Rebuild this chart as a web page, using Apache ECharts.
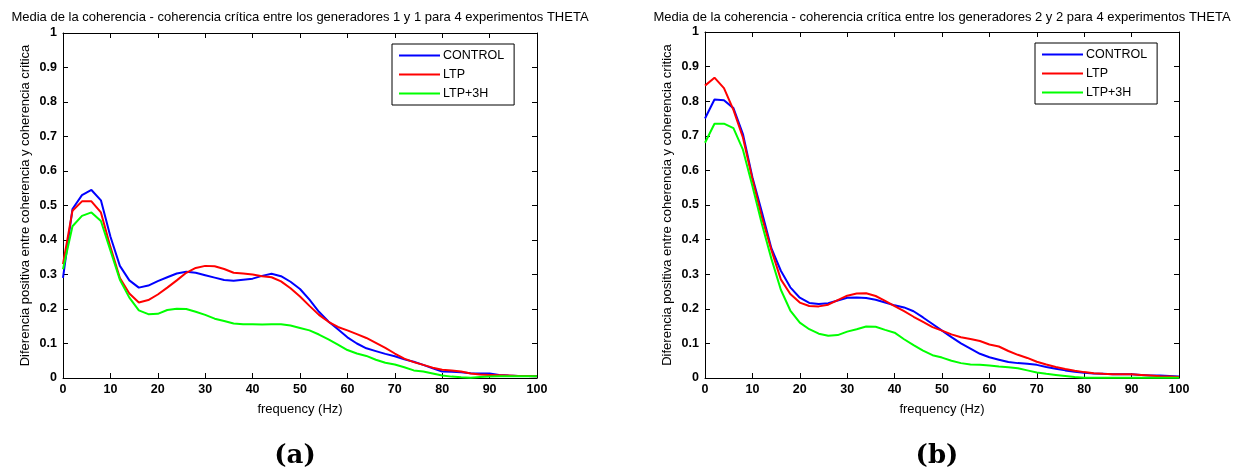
<!DOCTYPE html>
<html>
<head>
<meta charset="utf-8">
<title>Media de la coherencia - THETA</title>
<script src="https://cdn.jsdelivr.net/npm/echarts@6/dist/echarts.min.js"></script>
<style>
  html, body { margin: 0; padding: 0; background: #fff; }
  #chart { width: 1244px; height: 476px; }
</style>
</head>
<body>
<div id="chart"></div>
<script>
// Frequency axis (Hz), shared by both panels
const freq = [0, 2, 4, 6, 8, 10, 12, 14, 16, 18, 20, 22, 24, 26, 28, 30, 32, 34, 36, 38, 40,
  42, 44, 46, 48, 50, 52, 54, 56, 58, 60, 62, 64, 66, 68, 70, 72, 74, 76, 78, 80,
  82, 84, 86, 88, 90, 92, 94, 96, 98, 100];

const seriesNames = ['CONTROL', 'LTP', 'LTP+3H'];

// Panel (a): generators 1 and 1
const control1 = [0.290, 0.490, 0.530, 0.545, 0.515, 0.410, 0.325, 0.283, 0.262, 0.268, 0.281,
  0.292, 0.303, 0.308, 0.305, 0.298, 0.291, 0.284, 0.282, 0.285, 0.288,
  0.296, 0.302, 0.295, 0.279, 0.258, 0.227, 0.192, 0.164, 0.141, 0.118,
  0.100, 0.086, 0.078, 0.070, 0.063, 0.054, 0.047, 0.038, 0.028, 0.019,
  0.018, 0.017, 0.014, 0.013, 0.013, 0.009, 0.007, 0.006, 0.006, 0.005];
const ltp1 = [0.330, 0.485, 0.512, 0.512, 0.480, 0.380, 0.290, 0.245, 0.219, 0.226, 0.242,
  0.262, 0.283, 0.305, 0.319, 0.325, 0.324, 0.316, 0.305, 0.303, 0.300,
  0.295, 0.292, 0.280, 0.260, 0.236, 0.209, 0.183, 0.163, 0.148, 0.138,
  0.127, 0.116, 0.102, 0.087, 0.071, 0.056, 0.046, 0.038, 0.030, 0.024,
  0.022, 0.019, 0.013, 0.010, 0.009, 0.008, 0.007, 0.006, 0.006, 0.005];
const ltp3h1 = [0.315, 0.440, 0.470, 0.480, 0.455, 0.370, 0.285, 0.233, 0.196, 0.185, 0.186,
  0.197, 0.201, 0.200, 0.192, 0.183, 0.172, 0.165, 0.158, 0.156, 0.156,
  0.155, 0.156, 0.156, 0.152, 0.145, 0.138, 0.126, 0.112, 0.097, 0.081,
  0.071, 0.064, 0.053, 0.044, 0.039, 0.031, 0.022, 0.019, 0.013, 0.007,
  0.004, 0.002, 0.001, 0.003, 0.004, 0.005, 0.005, 0.005, 0.005, 0.005];

// Panel (b): generators 2 and 2
const control2 = [0.750, 0.805, 0.803, 0.780, 0.705, 0.580, 0.480, 0.375, 0.310, 0.262, 0.232,
  0.217, 0.214, 0.216, 0.224, 0.232, 0.233, 0.231, 0.226, 0.218, 0.210,
  0.204, 0.193, 0.175, 0.156, 0.137, 0.118, 0.100, 0.085, 0.070, 0.060,
  0.053, 0.046, 0.043, 0.041, 0.038, 0.032, 0.027, 0.022, 0.018, 0.015,
  0.013, 0.012, 0.011, 0.011, 0.011, 0.009, 0.007, 0.007, 0.006, 0.004];
const ltp2 = [0.845, 0.868, 0.838, 0.775, 0.695, 0.575, 0.465, 0.370, 0.285, 0.243, 0.218,
  0.208, 0.207, 0.212, 0.225, 0.238, 0.244, 0.245, 0.237, 0.223, 0.208,
  0.193, 0.177, 0.162, 0.147, 0.137, 0.126, 0.118, 0.113, 0.107, 0.097,
  0.091, 0.078, 0.067, 0.058, 0.047, 0.039, 0.032, 0.026, 0.021, 0.017,
  0.014, 0.012, 0.011, 0.011, 0.011, 0.009, 0.007, 0.005, 0.004, 0.003];
const ltp3h2 = [0.680, 0.735, 0.735, 0.722, 0.660, 0.555, 0.445, 0.345, 0.255, 0.195, 0.160,
  0.141, 0.128, 0.122, 0.124, 0.134, 0.141, 0.149, 0.148, 0.139, 0.131,
  0.112, 0.095, 0.079, 0.066, 0.059, 0.050, 0.043, 0.039, 0.038, 0.036,
  0.033, 0.031, 0.028, 0.022, 0.016, 0.012, 0.009, 0.006, 0.003, 0.001,
  0.001, 0.001, 0.001, 0.001, 0.001, 0.001, 0.001, 0.001, 0.001, 0.001];

const titles = [
  'Media de la coherencia - coherencia crítica entre los generadores 1 y 1 para 4 experimentos THETA',
  'Media de la coherencia - coherencia crítica entre los generadores 2 y 2 para 4 experimentos THETA'
];
const panelLabels = ['(a)', '(b)'];
const xName = 'frequency (Hz)';
const yName = 'Diferencia positiva entre coherencia y coherencia critica';

const colors = ['#0000ff', '#ff0000', '#00ff00'];
const FONT = '"Liberation Sans", Arial, Helvetica, sans-serif';

// Panel geometry in pixels
const panels = [
  { left: 63, right: 537, top: 33, bottom: 378 },
  { left: 705, right: 1179, top: 32, bottom: 378 }
];

const chart = echarts.init(document.getElementById('chart'), null, { renderer: 'canvas' });

const grids = panels.map(p => ({
  left: p.left, top: p.top,
  width: p.right - p.left, height: p.bottom - p.top,
  containLabel: false
}));

function xAx(gi, pos, labels) {
  return {
    gridIndex: gi, type: 'value', min: 0, max: 100, interval: 10, position: pos,
    axisLine: { show: true, onZero: false, lineStyle: { color: '#000', width: 1 } },
    axisTick: { show: true, inside: true, length: 5, lineStyle: { color: '#000' } },
    axisLabel: { show: labels, color: '#000', fontSize: 12.5, fontWeight: 'bold', fontFamily: FONT, margin: 5 },
    splitLine: { show: false }
  };
}
function yAx(gi, pos, labels) {
  return {
    gridIndex: gi, type: 'value', min: 0, max: 1, interval: 0.1, position: pos,
    axisLine: { show: true, onZero: false, lineStyle: { color: '#000', width: 1 } },
    axisTick: { show: true, inside: true, length: 5, lineStyle: { color: '#000' } },
    axisLabel: { show: labels, color: '#000', fontSize: 12.5, fontWeight: 'bold', fontFamily: FONT, margin: 6 },
    splitLine: { show: false }
  };
}

const xAxes = [xAx(0, 'bottom', true), xAx(0, 'top', false), xAx(1, 'bottom', true), xAx(1, 'top', false)];
const yAxes = [yAx(0, 'left', true), yAx(0, 'right', false), yAx(1, 'left', true), yAx(1, 'right', false)];

const panelData = [[control1, ltp1, ltp3h1], [control2, ltp2, ltp3h2]];
const series = [];
panelData.forEach((set, gi) => {
  set.forEach((vals, k) => {
    series.push({
      name: seriesNames[k], type: 'line',
      xAxisIndex: gi * 2, yAxisIndex: gi * 2,
      data: freq.map((f, i) => [f, vals[i]]),
      symbol: 'none', smooth: false, clip: true,
      lineStyle: { color: colors[k], width: 2 },
      itemStyle: { color: colors[k] },
      emphasis: { disabled: true }
    });
  });
});

const legendBoxes = [{ left: 392, top: 44 }, { left: 1035, top: 43 }];
const legends = legendBoxes.map(b => ({
  left: b.left, top: b.top, orient: 'vertical',
  data: seriesNames.map(n => ({ name: n, icon: 'rect' })),
  itemWidth: 41, itemHeight: 2, itemGap: 6,
  backgroundColor: '#fff', borderColor: '#000', borderWidth: 1,
  padding: [5, 10, 5, 7],
  selectedMode: false,
  textStyle: { color: '#000', fontSize: 12.5, fontFamily: FONT, padding: [0, 0, 0, -2], lineHeight: 13 }
}));

const graphics = [];
panels.forEach((p, i) => {
  const cx = (p.left + p.right) / 2;
  const cy = (p.top + p.bottom) / 2;
  graphics.push({
    type: 'text', x: cx, y: 17,
    style: { text: titles[i], fill: '#000', font: '13px ' + FONT, textAlign: 'center', textVerticalAlign: 'middle' }
  });
  graphics.push({
    type: 'text', x: cx, y: 409,
    style: { text: xName, fill: '#000', font: '13px ' + FONT, textAlign: 'center', textVerticalAlign: 'middle' }
  });
  graphics.push({
    type: 'text', x: p.left - 38, y: cy, rotation: Math.PI / 2,
    style: { text: yName, fill: '#000', font: '13px ' + FONT, textAlign: 'center', textVerticalAlign: 'middle' }
  });
  graphics.push({
    type: 'text', x: cx - 5, y: 456,
    style: { text: panelLabels[i], fill: '#000', font: 'bold 26px "DejaVu Serif", "Liberation Serif", serif', textAlign: 'center', textVerticalAlign: 'middle' }
  });
});

chart.setOption({
  animation: false,
  backgroundColor: '#fff',
  grid: grids,
  xAxis: xAxes,
  yAxis: yAxes,
  legend: legends,
  series: series,
  graphic: graphics
});
</script>
</body>
</html>
